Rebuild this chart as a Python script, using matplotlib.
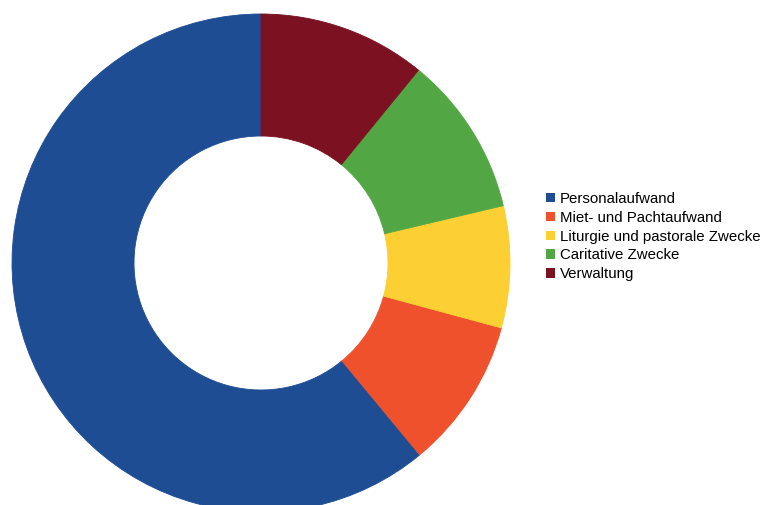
import matplotlib.pyplot as plt
from matplotlib.patches import Patch

plt.rcParams['font.family'] = ['Liberation Sans', 'DejaVu Sans']

# Anteile in Prozent (aus dem Bild geschätzt)
labels = ['Personalaufwand', 'Miet- und Pachtaufwand', 'Liturgie und pastorale Zwecke',
          'Caritative Zwecke', 'Verwaltung']
values = [61.0, 9.8, 7.9, 10.4, 10.9]
colors = ['#1e4d94', '#ee512b', '#fccf33', '#52a744', '#7b1121']

fig = plt.figure(figsize=(7.6, 5.05), dpi=100)
# Kreis: Mitte bei (261, 263) px, Radius 249 px
ax = fig.add_axes([12 / 760, -7 / 505, 498 / 760, 498 / 505])
wedges, _ = ax.pie(values, colors=colors, startangle=90, counterclock=True,
                   radius=1, wedgeprops=dict(width=0.49, linewidth=0.6))
for w, c in zip(wedges, colors):
    w.set_edgecolor(c)
ax.set_xlim(-1, 1)
ax.set_ylim(-1, 1)
ax.set_aspect('equal')

handles = [Patch(facecolor=c, edgecolor='none') for c in colors]
fig.legend(handles, labels, loc='upper left', bbox_to_anchor=(546 / 760, 1 - 192 / 505),
           frameon=False, fontsize=10.8, handlelength=0.6, handleheight=0.6,
           handletextpad=0.33, labelspacing=0.32, borderpad=0, borderaxespad=0)

fig.savefig('out.png', dpi=100)
